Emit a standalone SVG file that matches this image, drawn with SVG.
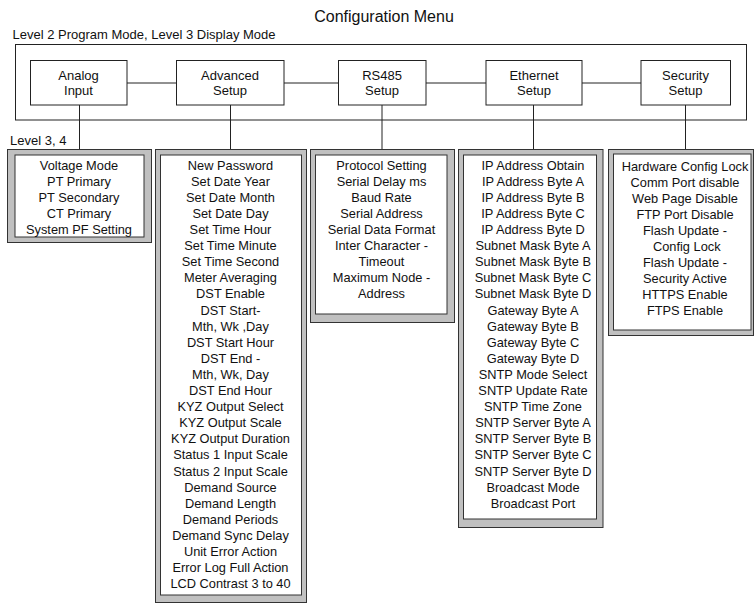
<svg xmlns="http://www.w3.org/2000/svg" width="754" height="607" viewBox="0 0 754 607">
<style>
text{font-family:"Liberation Sans",Arial,sans-serif;fill:#111;}
.t{font-size:13px;text-anchor:middle;}
.l{font-size:12.8px;text-anchor:middle;}
.box{fill:#fff;stroke:#222;stroke-width:1;}
.frame{fill:#c0c0c0;stroke:#333;stroke-width:1;}
.inner{fill:#fff;stroke:#333;stroke-width:1;}
.c{stroke:#222;stroke-width:1;fill:none;}
</style>
<rect width="754" height="607" fill="#fff"/>
<text x="384" y="21.5" style="font-size:16px;text-anchor:middle">Configuration Menu</text>
<text x="12.5" y="39.3" style="font-size:13px">Level 2 Program Mode, Level 3 Display Mode</text>
<text x="10" y="145" style="font-size:13px">Level 3, 4</text>
<rect x="15.5" y="44.5" width="731" height="75.5" fill="none" stroke="#222"/>

<g id="connectors">
<line class="c" x1="127" y1="83" x2="176" y2="83"/>
<line class="c" x1="284" y1="83" x2="338" y2="83"/>
<line class="c" x1="426" y1="83" x2="486" y2="83"/>
<line class="c" x1="582" y1="83" x2="641" y2="83"/>
<line class="c" x1="79.5" y1="105" x2="79.5" y2="155"/>
<line class="c" x1="230.5" y1="105" x2="230.5" y2="155"/>
<line class="c" x1="382" y1="105" x2="382" y2="155"/>
<line class="c" x1="533.5" y1="105" x2="533.5" y2="155"/>
<line class="c" x1="685.5" y1="105" x2="685.5" y2="155"/>
</g>

<g id="analog">
<rect class="box" x="30.5" y="60.5" width="96.5" height="44.5"/>
<text class="t" x="78.5" y="79.5">Analog</text>
<text class="t" x="78.5" y="95">Input</text>
</g>
<g id="advanced">
<rect class="box" x="176.5" y="60.5" width="107.5" height="44.5"/>
<text class="t" x="230" y="79.5">Advanced</text>
<text class="t" x="230" y="95">Setup</text>
</g>
<g id="rs485">
<rect class="box" x="338.5" y="60.5" width="87.5" height="44.5"/>
<text class="t" x="382" y="79.5">RS485</text>
<text class="t" x="382" y="95">Setup</text>
</g>
<g id="ethernet">
<rect class="box" x="486" y="60.5" width="96" height="44.5"/>
<text class="t" x="534" y="79.5">Ethernet</text>
<text class="t" x="534" y="95">Setup</text>
</g>
<g id="security">
<rect class="box" x="641" y="60.5" width="89.5" height="44.5"/>
<text class="t" x="685.5" y="79.5">Security</text>
<text class="t" x="685.5" y="95">Setup</text>
</g>

<g id="analog-list">
<rect class="frame" x="7.5" y="149.5" width="144" height="93"/>
<rect class="inner" x="15" y="155" width="129" height="82"/>
<text class="l" y="169.6"><tspan x="79">Voltage Mode</tspan><tspan x="79" dy="16.1">PT Primary</tspan><tspan x="79" dy="16.1">PT Secondary</tspan><tspan x="79" dy="16.1">CT Primary</tspan><tspan x="79" dy="16.1">System PF Setting</tspan></text>
</g>

<g id="advanced-list">
<rect class="frame" x="155.5" y="149.5" width="151" height="453"/>
<rect class="inner" x="160.5" y="155" width="141" height="440"/>
<text class="l" y="169.6"><tspan x="230.5">New Password</tspan><tspan x="230.5" dy="16.1">Set Date Year</tspan><tspan x="230.5" dy="16.1">Set Date Month</tspan><tspan x="230.5" dy="16.1">Set Date Day</tspan><tspan x="230.5" dy="16.1">Set Time Hour</tspan><tspan x="230.5" dy="16.1">Set Time Minute</tspan><tspan x="230.5" dy="16.1">Set Time Second</tspan><tspan x="230.5" dy="16.1">Meter Averaging</tspan><tspan x="230.5" dy="16.1">DST Enable</tspan><tspan x="230.5" dy="16.1">DST Start-</tspan><tspan x="230.5" dy="16.1">Mth, Wk ,Day</tspan><tspan x="230.5" dy="16.1">DST Start Hour</tspan><tspan x="230.5" dy="16.1">DST End -</tspan><tspan x="230.5" dy="16.1">Mth, Wk, Day</tspan><tspan x="230.5" dy="16.1">DST End Hour</tspan><tspan x="230.5" dy="16.1">KYZ Output Select</tspan><tspan x="230.5" dy="16.1">KYZ Output Scale</tspan><tspan x="230.5" dy="16.1">KYZ Output Duration</tspan><tspan x="230.5" dy="16.1">Status 1 Input Scale</tspan><tspan x="230.5" dy="16.1">Status 2 Input Scale</tspan><tspan x="230.5" dy="16.1">Demand Source</tspan><tspan x="230.5" dy="16.1">Demand Length</tspan><tspan x="230.5" dy="16.1">Demand Periods</tspan><tspan x="230.5" dy="16.1">Demand Sync Delay</tspan><tspan x="230.5" dy="16.1">Unit Error Action</tspan><tspan x="230.5" dy="16.1">Error Log Full Action</tspan><tspan x="230.5" dy="16.1">LCD Contrast 3 to 40</tspan></text>
</g>

<g id="rs485-list">
<rect class="frame" x="310.5" y="149.5" width="144" height="173"/>
<rect class="inner" x="315.5" y="155" width="131.5" height="159"/>
<text class="l" y="169.6"><tspan x="381.5">Protocol Setting</tspan><tspan x="381.5" dy="16.1">Serial Delay ms</tspan><tspan x="381.5" dy="16.1">Baud Rate</tspan><tspan x="381.5" dy="16.1">Serial Address</tspan><tspan x="381.5" dy="16.1">Serial Data Format</tspan><tspan x="381.5" dy="16.1">Inter Character -</tspan><tspan x="381.5" dy="16.1">Timeout</tspan><tspan x="381.5" dy="16.1">Maximum Node -</tspan><tspan x="381.5" dy="16.1">Address</tspan></text>
</g>

<g id="ethernet-list">
<rect class="frame" x="458.5" y="149.5" width="144.5" height="378"/>
<rect class="inner" x="463.5" y="155" width="133" height="364"/>
<text class="l" y="169.6"><tspan x="533">IP Address Obtain</tspan><tspan x="533" dy="16.1">IP Address Byte A</tspan><tspan x="533" dy="16.1">IP Address Byte B</tspan><tspan x="533" dy="16.1">IP Address Byte C</tspan><tspan x="533" dy="16.1">IP Address Byte D</tspan><tspan x="533" dy="16.1">Subnet Mask Byte A</tspan><tspan x="533" dy="16.1">Subnet Mask Byte B</tspan><tspan x="533" dy="16.1">Subnet Mask Byte C</tspan><tspan x="533" dy="16.1">Subnet Mask Byte D</tspan><tspan x="533" dy="16.1">Gateway Byte  A</tspan><tspan x="533" dy="16.1">Gateway Byte  B</tspan><tspan x="533" dy="16.1">Gateway Byte  C</tspan><tspan x="533" dy="16.1">Gateway Byte  D</tspan><tspan x="533" dy="16.1">SNTP Mode Select</tspan><tspan x="533" dy="16.1">SNTP Update Rate</tspan><tspan x="533" dy="16.1">SNTP Time Zone</tspan><tspan x="533" dy="16.1">SNTP Server Byte A</tspan><tspan x="533" dy="16.1">SNTP Server Byte B</tspan><tspan x="533" dy="16.1">SNTP Server Byte C</tspan><tspan x="533" dy="16.1">SNTP Server Byte D</tspan><tspan x="533" dy="16.1">Broadcast Mode</tspan><tspan x="533" dy="16.1">Broadcast Port</tspan></text>
</g>

<g id="security-list">
<rect class="frame" x="608.5" y="149.5" width="145" height="186"/>
<rect class="inner" x="613.5" y="154" width="137.5" height="176"/>
<text class="l" y="170.5"><tspan x="685">Hardware Config Lock</tspan><tspan x="685" dy="16.1">Comm Port disable</tspan><tspan x="685" dy="16.1">Web Page Disable</tspan><tspan x="685" dy="16.1">FTP Port Disable</tspan><tspan x="685" dy="16.1">Flash Update -</tspan><tspan x="685" dy="16.1"> Config Lock</tspan><tspan x="685" dy="16.1">Flash Update -</tspan><tspan x="685" dy="16.1">Security Active</tspan><tspan x="685" dy="16.1">HTTPS Enable</tspan><tspan x="685" dy="16.1">FTPS Enable</tspan></text>
</g>
</svg>
